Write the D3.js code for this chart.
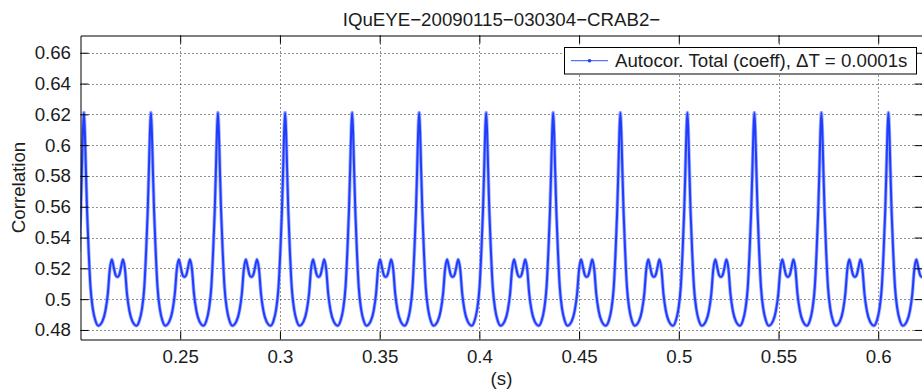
<!DOCTYPE html>
<html><head><meta charset="utf-8">
<script src="https://cdn.jsdelivr.net/npm/d3@7"></script>
<style>
body{margin:0;background:#fff}
svg{display:block}
text{font-family:"Liberation Sans",Arial,Helvetica,sans-serif;fill:#1c1c1c}
</style>
</head><body>
<svg id="c" width="922" height="392"></svg>
<script>
const chartTitle = "IQuEYE\u221220090115\u2212030304\u2212CRAB2\u2212";
const xLabel = "(s)";
const yLabel = "Correlation";
const legendLabel = "Autocor. Total (coeff), \u0394T = 0.0001s";
const xTicks = [0.25, 0.3, 0.35, 0.4, 0.45, 0.5, 0.55, 0.6];
const yTicks = [0.48, 0.5, 0.52, 0.54, 0.56, 0.58, 0.6, 0.62, 0.64, 0.66];
const xDomain = [0.2, 0.6222];
const yDomain = [0.4738, 0.6712];

// lag time in milliseconds
const timeMs = [
  199.3, 200.1, 200.7, 201.2,
  201.7, 202.2, 202.7, 203.3, 204.1, 205.0, 206.2, 207.5, 208.9, 211.0, 212.5, 213.7, 214.7, 215.7, 216.7, 217.5, 218.5, 219.5, 220.3, 221.3, 222.3, 223.3, 224.5, 226.0, 228.1, 229.5, 230.8, 232.0, 232.9, 233.7, 234.3, 234.8,
  235.3, 235.8, 236.3, 236.9, 237.7, 238.6, 239.8, 241.1, 242.5, 244.6, 246.1, 247.3, 248.3, 249.3, 250.3, 251.1, 252.1, 253.1, 253.9, 254.9, 255.9, 256.9, 258.1, 259.6, 261.7, 263.1, 264.4, 265.6, 266.5, 267.3, 267.9, 268.4,
  268.9, 269.4, 269.9, 270.5, 271.3, 272.2, 273.4, 274.7, 276.1, 278.2, 279.7, 280.9, 281.9, 282.9, 283.9, 284.7, 285.7, 286.7, 287.5, 288.5, 289.5, 290.5, 291.7, 293.2, 295.3, 296.8, 298.1, 299.3, 300.2, 301.0, 301.6, 302.1,
  302.6, 303.1, 303.6, 304.2, 305.0, 305.9, 307.1, 308.4, 309.8, 311.9, 313.4, 314.6, 315.6, 316.6, 317.6, 318.4, 319.4, 320.4, 321.2, 322.2, 323.2, 324.2, 325.4, 326.9, 329.0, 330.4, 331.7, 332.9, 333.8, 334.6, 335.2, 335.7,
  336.2, 336.7, 337.2, 337.8, 338.6, 339.5, 340.7, 342.0, 343.4, 345.5, 347.0, 348.2, 349.2, 350.2, 351.2, 352.0, 353.0, 354.0, 354.8, 355.8, 356.8, 357.8, 359.0, 360.5, 362.6, 364.0, 365.3, 366.5, 367.4, 368.2, 368.8, 369.3,
  369.8, 370.3, 370.8, 371.4, 372.2, 373.1, 374.3, 375.6, 377.0, 379.1, 380.6, 381.8, 382.8, 383.8, 384.8, 385.6, 386.6, 387.6, 388.4, 389.4, 390.4, 391.4, 392.6, 394.1, 396.2, 397.6, 398.9, 400.1, 401.0, 401.8, 402.4, 402.9,
  403.4, 403.9, 404.4, 405.0, 405.8, 406.7, 407.9, 409.2, 410.6, 412.7, 414.2, 415.4, 416.4, 417.4, 418.4, 419.2, 420.2, 421.2, 422.0, 423.0, 424.0, 425.0, 426.2, 427.7, 429.8, 431.2, 432.5, 433.7, 434.6, 435.4, 436.0, 436.5,
  437.0, 437.5, 438.0, 438.6, 439.4, 440.3, 441.5, 442.8, 444.2, 446.3, 447.8, 449.0, 450.0, 451.0, 452.0, 452.8, 453.8, 454.8, 455.6, 456.6, 457.6, 458.6, 459.8, 461.3, 463.4, 464.9, 466.2, 467.4, 468.3, 469.1, 469.7, 470.2,
  470.7, 471.2, 471.7, 472.3, 473.1, 474.0, 475.2, 476.5, 477.9, 480.0, 481.5, 482.7, 483.7, 484.7, 485.7, 486.5, 487.5, 488.5, 489.3, 490.3, 491.3, 492.3, 493.5, 495.0, 497.1, 498.5, 499.8, 501.0, 501.9, 502.7, 503.3, 503.8,
  504.3, 504.8, 505.3, 505.9, 506.7, 507.6, 508.8, 510.1, 511.5, 513.6, 515.1, 516.3, 517.3, 518.3, 519.3, 520.1, 521.1, 522.1, 522.9, 523.9, 524.9, 525.9, 527.1, 528.6, 530.7, 532.1, 533.4, 534.6, 535.5, 536.3, 536.9, 537.4,
  537.9, 538.4, 538.9, 539.5, 540.3, 541.2, 542.4, 543.7, 545.1, 547.2, 548.7, 549.9, 550.9, 551.9, 552.9, 553.7, 554.7, 555.7, 556.5, 557.5, 558.5, 559.5, 560.7, 562.2, 564.3, 565.7, 567.0, 568.2, 569.1, 569.9, 570.5, 571.0,
  571.5, 572.0, 572.5, 573.1, 573.9, 574.8, 576.0, 577.3, 578.7, 580.8, 582.3, 583.5, 584.5, 585.5, 586.5, 587.3, 588.3, 589.3, 590.1, 591.1, 592.1, 593.1, 594.3, 595.8, 597.9, 599.3, 600.6, 601.8, 602.7, 603.5, 604.1, 604.6,
  605.1, 605.6, 606.1, 606.7, 607.5, 608.4, 609.6, 610.9, 612.3, 614.4, 615.9, 617.1, 618.1, 619.1, 620.1, 620.9, 621.9, 622.9
];

// correlation coefficient at each lag
const corr = [
  0.531, 0.557, 0.584, 0.608,
  0.6212, 0.608, 0.584, 0.557, 0.531, 0.508, 0.4935, 0.486, 0.4828, 0.4857, 0.4925, 0.5035, 0.5195, 0.5258, 0.5205, 0.516, 0.5144, 0.516, 0.5205, 0.5258, 0.5195, 0.5035, 0.4925, 0.4857, 0.4828, 0.486, 0.4935, 0.508, 0.531, 0.557, 0.584, 0.608,
  0.6212, 0.608, 0.584, 0.557, 0.531, 0.508, 0.4935, 0.486, 0.4828, 0.4857, 0.4925, 0.5035, 0.5195, 0.5258, 0.5205, 0.516, 0.5144, 0.516, 0.5205, 0.5258, 0.5195, 0.5035, 0.4925, 0.4857, 0.4828, 0.486, 0.4935, 0.508, 0.531, 0.557, 0.584, 0.608,
  0.6212, 0.608, 0.584, 0.557, 0.531, 0.508, 0.4935, 0.486, 0.4828, 0.4857, 0.4925, 0.5035, 0.5195, 0.5258, 0.5205, 0.516, 0.5144, 0.516, 0.5205, 0.5258, 0.5195, 0.5035, 0.4925, 0.4857, 0.4828, 0.486, 0.4935, 0.508, 0.531, 0.557, 0.584, 0.608,
  0.6212, 0.608, 0.584, 0.557, 0.531, 0.508, 0.4935, 0.486, 0.4828, 0.4857, 0.4925, 0.5035, 0.5195, 0.5258, 0.5205, 0.516, 0.5144, 0.516, 0.5205, 0.5258, 0.5195, 0.5035, 0.4925, 0.4857, 0.4828, 0.486, 0.4935, 0.508, 0.531, 0.557, 0.584, 0.608,
  0.6212, 0.608, 0.584, 0.557, 0.531, 0.508, 0.4935, 0.486, 0.4828, 0.4857, 0.4925, 0.5035, 0.5195, 0.5258, 0.5205, 0.516, 0.5144, 0.516, 0.5205, 0.5258, 0.5195, 0.5035, 0.4925, 0.4857, 0.4828, 0.486, 0.4935, 0.508, 0.531, 0.557, 0.584, 0.608,
  0.6212, 0.608, 0.584, 0.557, 0.531, 0.508, 0.4935, 0.486, 0.4828, 0.4857, 0.4925, 0.5035, 0.5195, 0.5258, 0.5205, 0.516, 0.5144, 0.516, 0.5205, 0.5258, 0.5195, 0.5035, 0.4925, 0.4857, 0.4828, 0.486, 0.4935, 0.508, 0.531, 0.557, 0.584, 0.608,
  0.6212, 0.608, 0.584, 0.557, 0.531, 0.508, 0.4935, 0.486, 0.4828, 0.4857, 0.4925, 0.5035, 0.5195, 0.5258, 0.5205, 0.516, 0.5144, 0.516, 0.5205, 0.5258, 0.5195, 0.5035, 0.4925, 0.4857, 0.4828, 0.486, 0.4935, 0.508, 0.531, 0.557, 0.584, 0.608,
  0.6212, 0.608, 0.584, 0.557, 0.531, 0.508, 0.4935, 0.486, 0.4828, 0.4857, 0.4925, 0.5035, 0.5195, 0.5258, 0.5205, 0.516, 0.5144, 0.516, 0.5205, 0.5258, 0.5195, 0.5035, 0.4925, 0.4857, 0.4828, 0.486, 0.4935, 0.508, 0.531, 0.557, 0.584, 0.608,
  0.6212, 0.608, 0.584, 0.557, 0.531, 0.508, 0.4935, 0.486, 0.4828, 0.4857, 0.4925, 0.5035, 0.5195, 0.5258, 0.5205, 0.516, 0.5144, 0.516, 0.5205, 0.5258, 0.5195, 0.5035, 0.4925, 0.4857, 0.4828, 0.486, 0.4935, 0.508, 0.531, 0.557, 0.584, 0.608,
  0.6212, 0.608, 0.584, 0.557, 0.531, 0.508, 0.4935, 0.486, 0.4828, 0.4857, 0.4925, 0.5035, 0.5195, 0.5258, 0.5205, 0.516, 0.5144, 0.516, 0.5205, 0.5258, 0.5195, 0.5035, 0.4925, 0.4857, 0.4828, 0.486, 0.4935, 0.508, 0.531, 0.557, 0.584, 0.608,
  0.6212, 0.608, 0.584, 0.557, 0.531, 0.508, 0.4935, 0.486, 0.4828, 0.4857, 0.4925, 0.5035, 0.5195, 0.5258, 0.5205, 0.516, 0.5144, 0.516, 0.5205, 0.5258, 0.5195, 0.5035, 0.4925, 0.4857, 0.4828, 0.486, 0.4935, 0.508, 0.531, 0.557, 0.584, 0.608,
  0.6212, 0.608, 0.584, 0.557, 0.531, 0.508, 0.4935, 0.486, 0.4828, 0.4857, 0.4925, 0.5035, 0.5195, 0.5258, 0.5205, 0.516, 0.5144, 0.516, 0.5205, 0.5258, 0.5195, 0.5035, 0.4925, 0.4857, 0.4828, 0.486, 0.4935, 0.508, 0.531, 0.557, 0.584, 0.608,
  0.6212, 0.608, 0.584, 0.557, 0.531, 0.508, 0.4935, 0.486, 0.4828, 0.4857, 0.4925, 0.5035, 0.5195, 0.5258, 0.5205, 0.516, 0.5144, 0.516
];

const W = 922, H = 392;
const L = 80.5, R = 922.5, T = 35.5, B = 339.5;
const FS = 18.7;
const TICK = 8;

const svg = d3.select("#c");
const x = d3.scaleLinear().domain(xDomain).range([L, R]);
const y = d3.scaleLinear().domain(yDomain).range([B, T]);
const data = timeMs.map((t, i) => ({ t: t / 1000, v: corr[i] }));

svg.append("defs").append("clipPath").attr("id", "plotClip")
  .append("rect").attr("x", L).attr("y", T).attr("width", R - L).attr("height", B - T);

svg.append("rect").attr("x", L).attr("y", T).attr("width", R - L).attr("height", B - T).attr("fill", "#fff");

// grid
const grid = svg.append("g").attr("stroke", "#222").attr("stroke-width", 1).attr("stroke-dasharray", "1,3");
grid.selectAll("line.gx").data(xTicks).join("line")
  .attr("x1", d => Math.round(x(d)) + 0.5).attr("x2", d => Math.round(x(d)) + 0.5)
  .attr("y1", T).attr("y2", B);
grid.selectAll("line.gy").data(yTicks).join("line").attr("class", "gy")
  .attr("y1", d => Math.round(y(d)) + 0.5).attr("y2", d => Math.round(y(d)) + 0.5)
  .attr("x1", L).attr("x2", R);

// data line
const line = d3.line().x(d => x(d.t)).y(d => y(d.v)).curve(d3.curveMonotoneX);
const plot = svg.append("g").attr("clip-path", "url(#plotClip)");
plot.append("path").datum(data).attr("d", line)
  .attr("fill", "none").attr("stroke", "#8a9bff").attr("stroke-width", 3.6).attr("stroke-linejoin", "round").attr("opacity", 0.8);
plot.append("path").datum(data).attr("d", line)
  .attr("fill", "none").attr("stroke", "#1f3cff").attr("stroke-width", 2).attr("stroke-linejoin", "round");

// axes
const fmt = d => String(d);
const axB = svg.append("g").attr("transform", `translate(0,${B})`)
  .call(d3.axisBottom(x).tickValues(xTicks).tickFormat(fmt).tickSizeInner(-TICK).tickSizeOuter(0).tickPadding(10.5));
const axT = svg.append("g").attr("transform", `translate(0,${T})`)
  .call(d3.axisTop(x).tickValues(xTicks).tickFormat("").tickSizeInner(-TICK).tickSizeOuter(0));
const axL = svg.append("g").attr("transform", `translate(${L},0)`)
  .call(d3.axisLeft(y).tickValues(yTicks).tickFormat(fmt).tickSizeInner(-TICK).tickSizeOuter(0).tickPadding(9.5));
const axR = svg.append("g").attr("transform", `translate(${R},0)`)
  .call(d3.axisRight(y).tickValues(yTicks).tickFormat("").tickSizeInner(-TICK).tickSizeOuter(0));
[axB, axT, axL, axR].forEach(g => {
  g.selectAll("path.domain").attr("stroke", "#000").attr("stroke-width", 1);
  g.selectAll(".tick line").attr("stroke", "#000").attr("stroke-width", 1);
  g.selectAll("text").attr("font-size", FS).attr("font-family", "Liberation Sans, Arial, sans-serif").attr("fill", "#1c1c1c");
});

// title and labels
svg.append("text").attr("x", (L + R) / 2).attr("y", 26).attr("text-anchor", "middle").attr("font-size", FS).text(chartTitle);
svg.append("text").attr("x", (L + R) / 2).attr("y", 385).attr("text-anchor", "middle").attr("font-size", FS).text(xLabel);
svg.append("text").attr("transform", `translate(24.5,${(T + B) / 2}) rotate(-90)`).attr("text-anchor", "middle").attr("font-size", FS).text(yLabel);

// legend
const lg = svg.append("g");
lg.append("rect").attr("x", 564.5).attr("y", 47.5).attr("width", 352).attr("height", 26.5)
  .attr("fill", "#fff").attr("stroke", "#000").attr("stroke-width", 1);
lg.append("line").attr("x1", 571).attr("x2", 608).attr("y1", 60.7).attr("y2", 60.7)
  .attr("stroke", "#5573ff").attr("stroke-width", 1.3);
lg.append("circle").attr("cx", 589.5).attr("cy", 60.7).attr("r", 1.8).attr("fill", "#1f3cff");
lg.append("text").attr("x", 615).attr("y", 67).attr("font-size", FS).text(legendLabel);
</script>
</body></html>
